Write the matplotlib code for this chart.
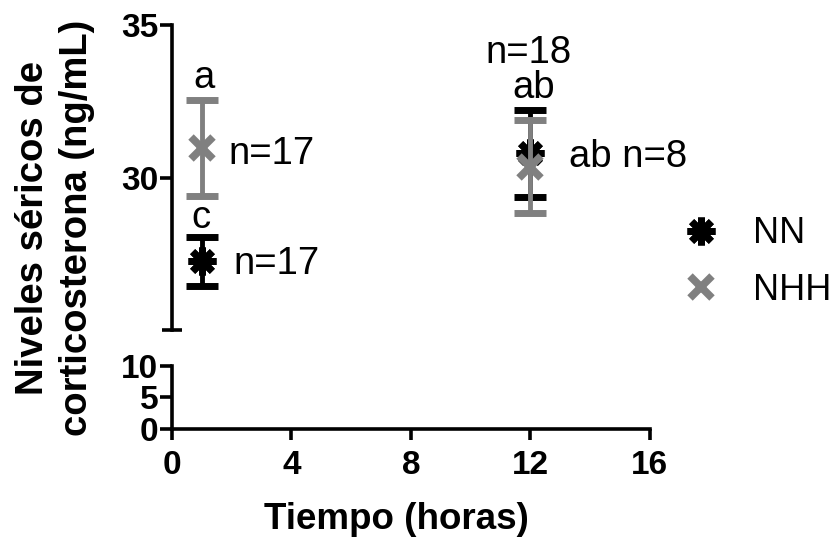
import matplotlib
matplotlib.use("Agg")
import matplotlib.pyplot as plt
from matplotlib.lines import Line2D

plt.rcParams["font.family"] = ["Liberation Sans", "DejaVu Sans"]

# datos
tiempo = [1, 12]
nn_media = [27.25, 30.8]
nn_sem = [0.8, 1.43]
nhh_media = [30.97, 30.35]
nhh_sem = [1.56, 1.52]
grupos = ["NN", "NHH"]

x_ticks = [0, 4, 8, 12, 16]
y_ticks_alto = [30, 35]
y_ticks_bajo = [0, 5, 10]

# anotaciones: (texto, x, y, alineación)
etiquetas = [
    ("a", 1.08, 32.93, "center"),
    ("n=17", 1.88, 30.46, "left"),
    ("c", 0.97, 28.36, "center"),
    ("n=17", 2.05, 26.84, "left"),
    ("n=18", 11.93, 33.75, "center"),
    ("ab", 12.1, 32.6, "center"),
    ("ab n=8", 13.28, 30.33, "left"),
]

NEGRO, GRIS = "black", "#808080"
LW = 2.6
TICK_FS = 24
tick_font = dict(fontsize=TICK_FS, fontweight="bold")
mk_nn = dict(marker=(8, 2, 0), ms=20, mew=5, color=NEGRO)
mk_nhh = dict(marker="x", ms=16, mew=5.5, color=GRIS)

fig = plt.figure(figsize=(8.33, 5.43), dpi=100)
ax_hi = fig.add_axes([0.2065, 0.392, 0.5735, 0.562])
ax_lo = fig.add_axes([0.2065, 0.210, 0.5735, 0.116])

for ax in (ax_hi, ax_lo):
    ax.set_xlim(0, 16)
    for s in ("top", "right"):
        ax.spines[s].set_visible(False)
    ax.spines["left"].set_linewidth(LW)
    ax.spines["bottom"].set_linewidth(LW)
    ax.tick_params(axis="y", which="major", length=9, width=LW, direction="out", pad=1)
    ax.tick_params(axis="y", which="minor", length=14, width=LW, direction="inout")

ax_hi.set_ylim(25, 35)
ax_hi.set_yticks(y_ticks_alto, [str(t) for t in y_ticks_alto], **tick_font)
ax_hi.set_yticks([25], minor=True)
ax_hi.spines["bottom"].set_visible(False)
ax_hi.tick_params(axis="x", which="both", bottom=False, labelbottom=False)

ax_lo.set_ylim(0, 10)
ax_lo.set_yticks(y_ticks_bajo, [str(t) for t in y_ticks_bajo], **tick_font)
ax_lo.set_yticks([10], minor=True)
ax_lo.set_xticks(x_ticks, [str(t) for t in x_ticks], **tick_font)
ax_lo.tick_params(axis="x", length=8, width=LW, direction="out", pad=7)

estilo_err = dict(fmt="none", elinewidth=3.5, capsize=11.5, capthick=5)
ax_hi.errorbar(tiempo, nn_media, yerr=nn_sem, ecolor=NEGRO, zorder=2, **estilo_err)
ax_hi.plot(tiempo, nn_media, ls="none", zorder=3, **mk_nn)
ax_hi.errorbar(tiempo, nhh_media, yerr=nhh_sem, ecolor=GRIS, zorder=4, **estilo_err)
ax_hi.plot(tiempo, nhh_media, ls="none", zorder=5, **mk_nhh)

for txt, x, y, ha in etiquetas:
    ax_hi.text(x, y, txt, ha=ha, va="baseline", fontsize=27.5, clip_on=False)

handles = [Line2D([], [], ls="none", **mk_nn), Line2D([], [], ls="none", **mk_nhh)]
fig.legend(handles, grupos, loc="center left", bbox_to_anchor=(0.802, 0.517),
           frameon=False, fontsize=26, handletextpad=0.95, labelspacing=0.6,
           handlelength=1.0, borderaxespad=0)

fig.text(0.066, 0.58, "Niveles séricos de\ncorticosterona (ng/mL)", rotation=90,
         ha="center", va="center", fontsize=27.5, fontweight="bold", linespacing=1.3)
fig.text(0.476, 0.044, "Tiempo (horas)", ha="center", va="center",
         fontsize=26.5, fontweight="bold")

fig.savefig("out.png", dpi=100)
